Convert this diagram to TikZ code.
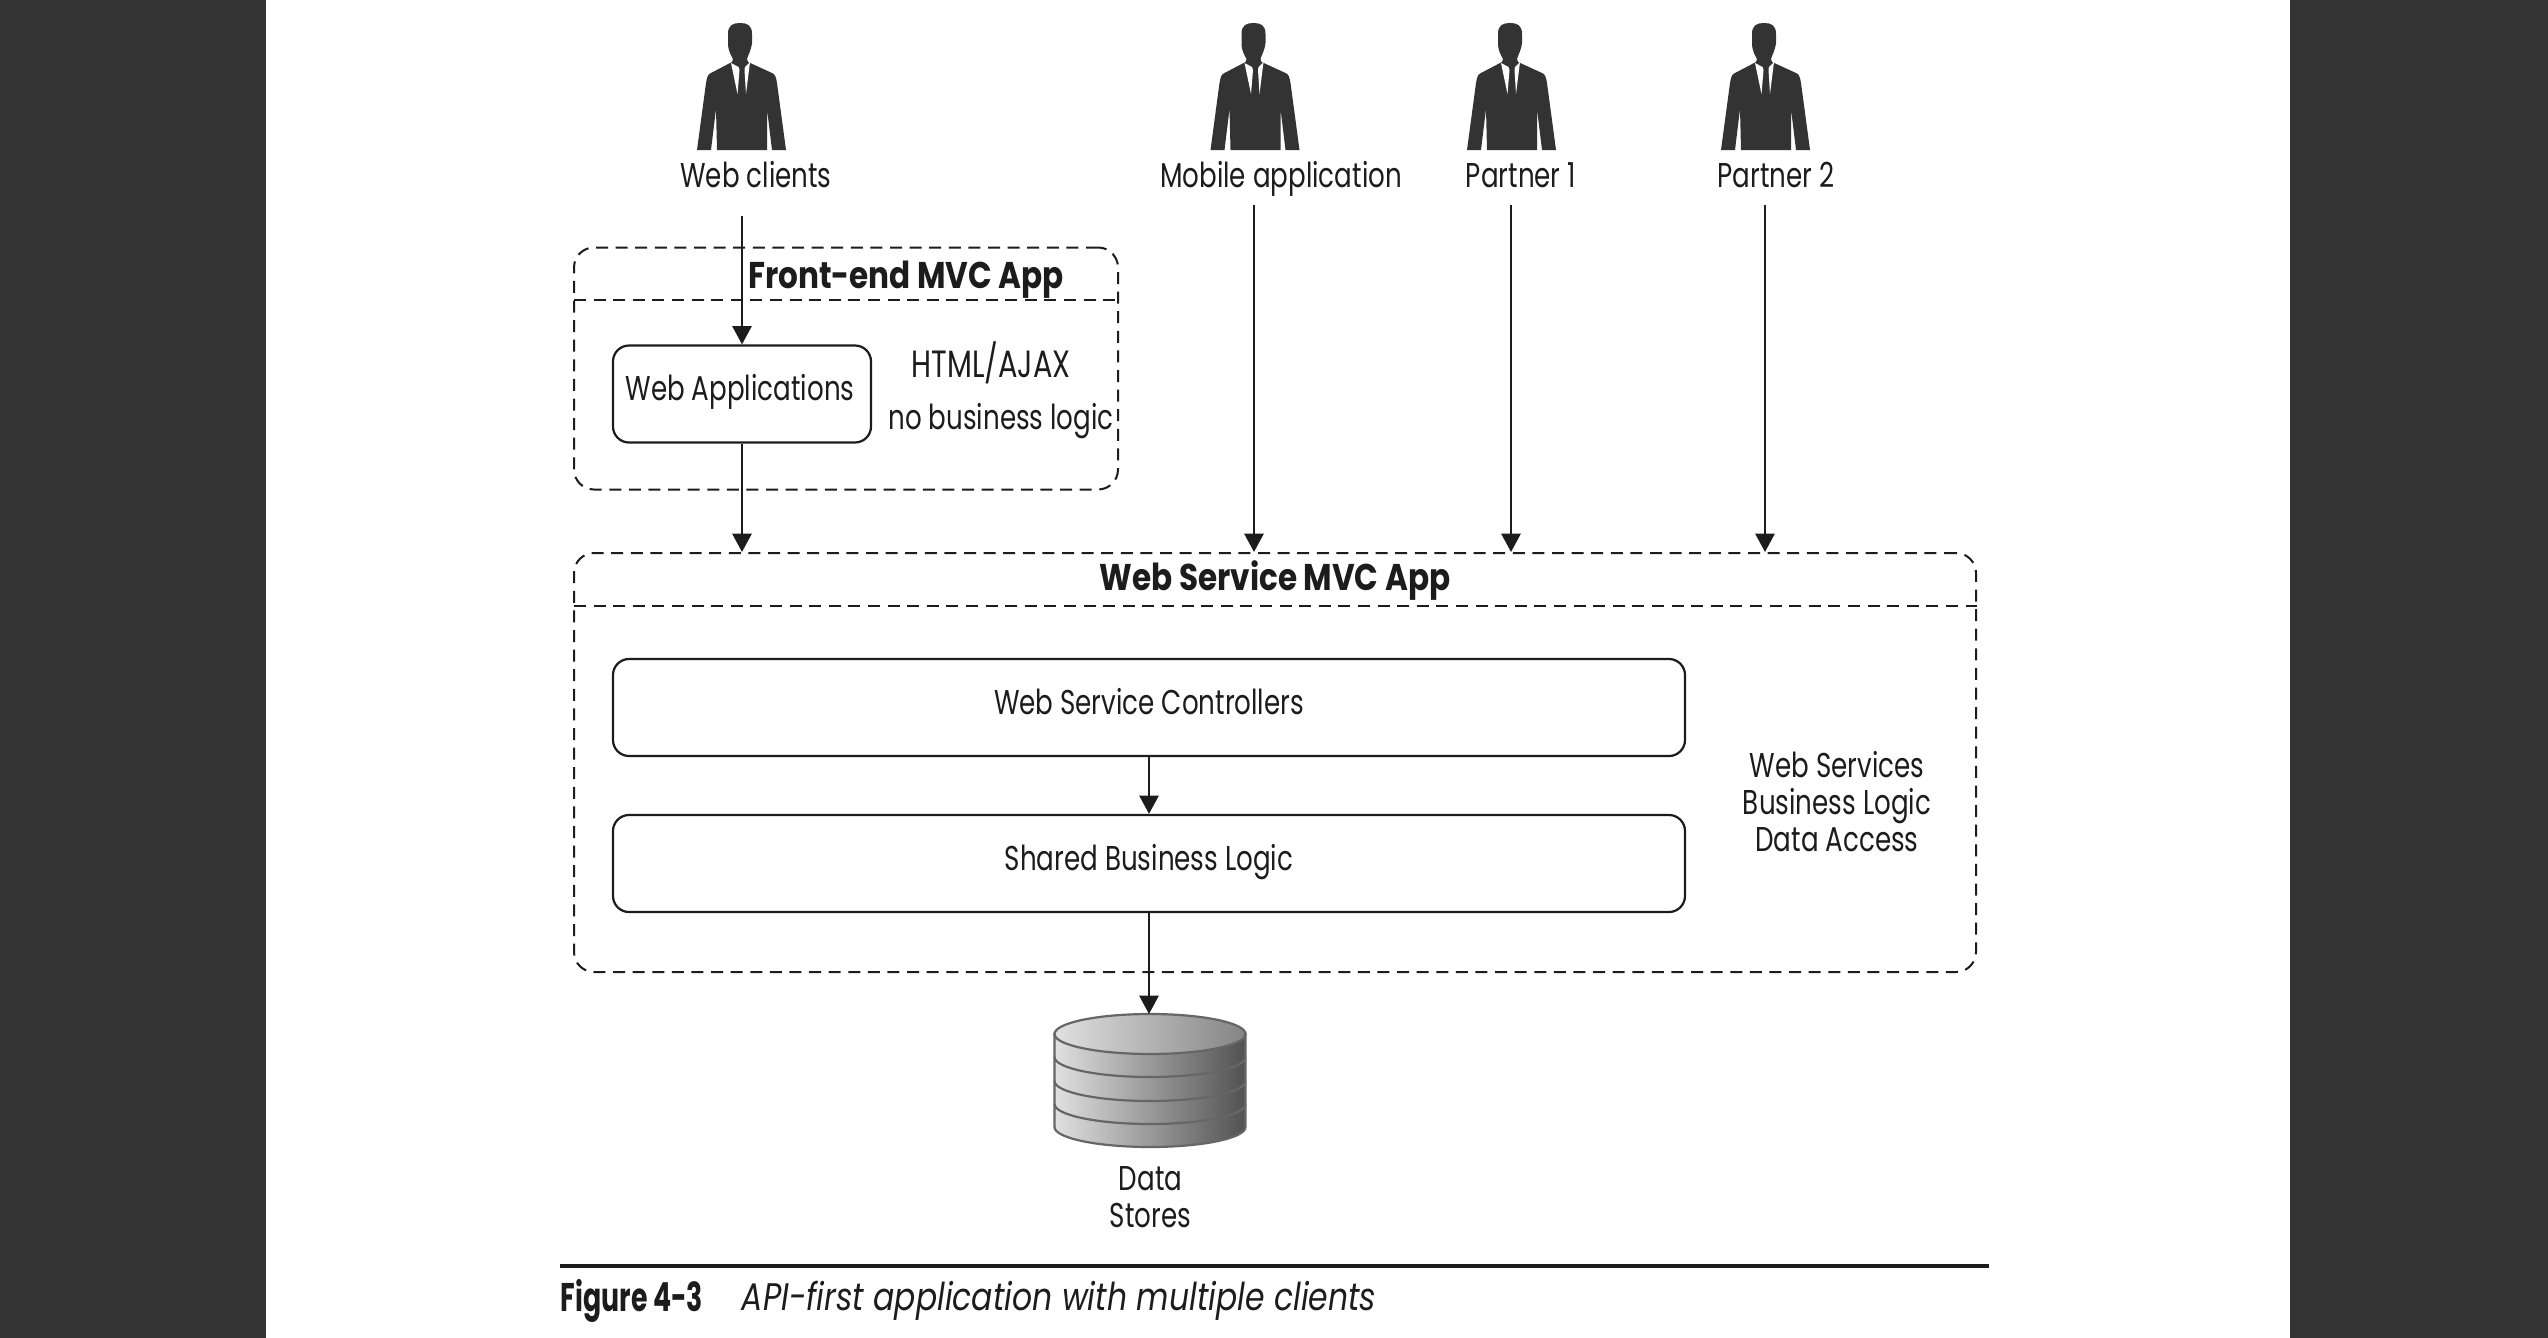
\documentclass[tikz,border=0pt]{standalone}
\usepackage{fontspec}
\usepackage{tikz}
\usetikzlibrary{arrows.meta}
\setmainfont{Poppins}[FakeStretch=.76]
\newfontfamily\titlefont{Poppins}[FakeStretch=.835]
\newfontfamily\capfont{Poppins}[FakeStretch=.82]
\newfontfamily\figfont{Poppins}[FakeStretch=.67]
\definecolor{barcolor}{HTML}{333333}
\definecolor{inkcolor}{HTML}{1C1C1C}
\definecolor{dbline}{HTML}{666666}
\tikzset{
    every node/.style={inner sep=0pt, text=inkcolor, font=\fontsize{8.6}{9.25}\selectfont}
}
\tikzset{
    arrowline/.style={draw=inkcolor, line width=.6pt, -{Triangle[length=4.6pt,width=4.8pt]}},
    dashline/.style={draw=inkcolor, line width=.5pt, dash pattern=on 3pt off 1.9pt},
    dashbox/.style={dashline, rounded corners=5pt},
    solidbox/.style={draw=inkcolor, line width=.55pt, rounded corners=4pt},
    boxtitle/.style={font=\fontsize{9.3}{10}\titlefont\bfseries},
    dbstroke/.style={draw=dbline, line width=.55pt},
    person/.pic={
        \fill[barcolor] (-13,11) .. controls (-13,2) and (-8,0) .. (-1,0)
            .. controls (6,0) and (11,2) .. (11,11) -- (11,20)
            .. controls (10,28) and (7,32) .. (6,36) -- (7,39) -- (31,50)
            .. controls (34,51) and (35,54) .. (36,60) -- (45,127) -- (31,127)
            -- (26,86) -- (26,127) -- (-24,127) -- (-25,86) -- (-30,127)
            -- (-44,127) -- (-35,60) .. controls (-34,54) and (-33,51) .. (-30,50)
            -- (-9,39) -- (-8,36) .. controls (-10,32) and (-13,28) .. (-13,20) -- cycle;
        \fill[white] (-10,40) -- (-3.5,71) -- (-1.5,47) -- (-2.5,44) -- cycle;
        \fill[white] (9,39) -- (5,71) -- (3.5,47) -- (4,44) -- cycle;
    },
    dbband/.pic={
        \draw[dbstroke] (-95.5,0) .. controls (-95.5,11) and (-53,20) .. (0,20)
            .. controls (53,20) and (95.5,11) .. (95.5,0);
    }
}

\begin{document}
\begin{tikzpicture}[x=0.25pt,y=-0.25pt]
	\useasboundingbox (0,0) rectangle (2548,1338);
	\fill[white] (0,0) rectangle (2548,1338);
	\fill[barcolor] (0,0) rectangle (266,1338);
	\fill[barcolor] (2290,0) rectangle (2548,1338);

	\pic at (741,23) {person};
	\pic at (1254.5,23) {person};
	\pic at (1511,23) {person};
	\pic at (1765,23) {person};

	\node (webclients) at (756,175) {Web clients};
	\node (mobile) at (1281,179) {Mobile application};
	\node (partnerone) at (1521,175) {Partner 1};
	\node (partnertwo) at (1776,175) {Partner 2};

	\coordinate (webstart) at (742,216);
	\coordinate (mobilestart) at (1254,205);
	\coordinate (onestart) at (1511,205);
	\coordinate (twostart) at (1765,205);

	% front-end box
	\node (frontbox) [dashbox, minimum width=136pt, minimum height=60.5pt] at (846,368.5) {};
	\coordinate (frontleft) at (574,300);
	\node (fronttitle) [boxtitle] at (906,280) {Front-end MVC App};
	\draw[dashline] (frontleft) -- (frontleft -| frontbox.east);
	\node (webapps) [solidbox, minimum width=64.5pt, minimum height=24.25pt] at (742,394) {};
	\node (webappstext) at (740,392) {Web Applications};
	\node (htmltext) [font=\fontsize{9.5}{10}\selectfont] at (991,363) {HTML/AJAX};
	\node (nologic) at (1001,421) {no business logic};

	% web service box
	\node (servicebox) [dashbox, minimum width=350.5pt, minimum height=104.75pt] at (1275,762.5) {};
	\coordinate (serviceleft) at (574,606);
	\node (servicetitle) [boxtitle] at (1275,581) {Web Service MVC App};
	\draw[dashline] (serviceleft) -- (serviceleft -| servicebox.east);
	\node (controllers) [solidbox, minimum width=268pt, minimum height=24.25pt] at (1149,707.5) {};
	\node (controllerstext) at (1149,702) {Web Service Controllers};
	\node (shared) [solidbox, minimum width=268pt, minimum height=24.25pt] at (1149,863.5) {};
	\node (sharedtext) at (1149,862) {Shared Business Logic};
	\node (servicetext) [align=center] at (1837,802) {Web Services\\Business Logic\\Data Access};

	% data stores
	\shade[left color=white!88!black, right color=black!68!white, dbstroke]
		(1054.5,1034) -- (1054.5,1127) .. controls (1054.5,1138) and (1097,1147) .. (1150,1147)
		.. controls (1203,1147) and (1245.5,1138) .. (1245.5,1127) -- (1245.5,1034) -- cycle;
	\shade[left color=white!88!black, right color=black!48!white, dbstroke]
		(1150,1034) ellipse [x radius=95.5, y radius=20];
	\pic at (1150,1057) {dbband};
	\pic at (1150,1081) {dbband};
	\pic at (1150,1104) {dbband};
	\coordinate (storestop) at (1149,1014);
	\node (storestext) [align=center] at (1150.5,1197) {Data\\Stores};

	\draw[arrowline] (webstart) -- (webapps.north);
	\draw[arrowline] (webapps.south) -- (webapps.south |- servicebox.north);
	\draw[arrowline] (mobilestart) -- (mobilestart |- servicebox.north);
	\draw[arrowline] (onestart) -- (onestart |- servicebox.north);
	\draw[arrowline] (twostart) -- (twostart |- servicebox.north);
	\draw[arrowline] (controllers) -- (shared);
	\draw[arrowline] (shared.south) -- (storestop);

	% caption
	\coordinate (ruleleft) at (560,1266);
	\coordinate (ruleright) at (1989,1266);
	\draw[draw=inkcolor, line width=1.1pt] (ruleleft) -- (ruleright);
	\node (figlabel) [anchor=west, font=\fontsize{10}{10}\figfont\bfseries] at (560,1301) {Figure 4-3};
	\node (figtext) [anchor=west, font=\fontsize{9.6}{10}\capfont\itshape] at (741,1301) {API-first application with multiple clients};
\end{tikzpicture}
\end{document}
